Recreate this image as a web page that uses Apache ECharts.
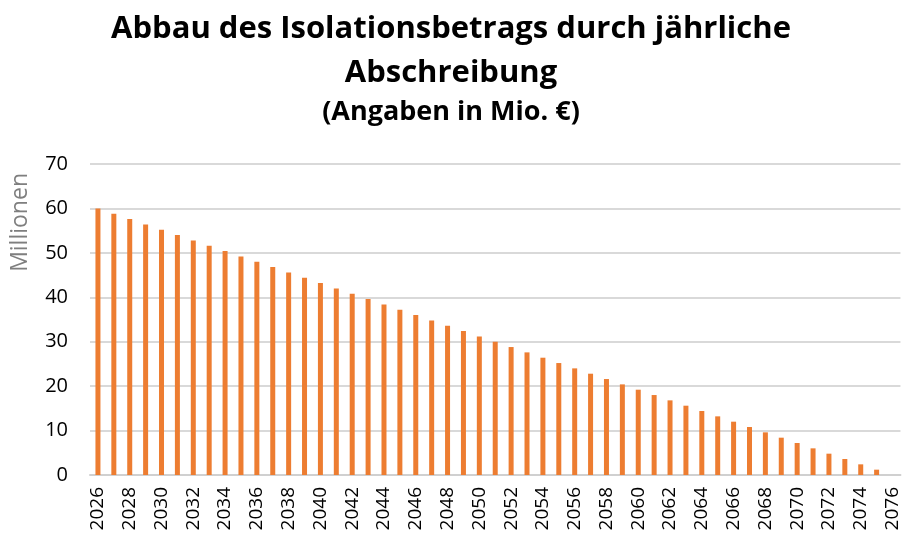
<!DOCTYPE html>
<html>
<head>
<meta charset="utf-8">
<script src="https://cdn.jsdelivr.net/npm/echarts@6/dist/echarts.min.js"></script>
<style>
  html, body { margin: 0; padding: 0; background: #fff; }
  #chart { width: 902px; height: 540px; }
</style>
</head>
<body>
<div id="chart"></div>
<script>
// Jahre 2026 - 2076
const years = ['2026','2027','2028','2029','2030','2031','2032','2033','2034','2035',
  '2036','2037','2038','2039','2040','2041','2042','2043','2044','2045',
  '2046','2047','2048','2049','2050','2051','2052','2053','2054','2055',
  '2056','2057','2058','2059','2060','2061','2062','2063','2064','2065',
  '2066','2067','2068','2069','2070','2071','2072','2073','2074','2075','2076']
// Restbetrag in Mio. €
const betrag = [60.0, 58.8, 57.6, 56.4, 55.2, 54.0, 52.8, 51.6, 50.4, 49.2,
  48.0, 46.8, 45.6, 44.4, 43.2, 42.0, 40.8, 39.6, 38.4, 37.2,
  36.0, 34.8, 33.6, 32.4, 31.2, 30.0, 28.8, 27.6, 26.4, 25.2,
  24.0, 22.8, 21.6, 20.4, 19.2, 18.0, 16.8, 15.6, 14.4, 13.2,
  12.0, 10.8, 9.6, 8.4, 7.2, 6.0, 4.8, 3.6, 2.4, 1.2, 0]
const yTicks = [0, 10, 20, 30, 40, 50, 60, 70]

const font = '"Open Sans", "Noto Sans", sans-serif'
const chart = echarts.init(document.getElementById('chart'), null, { renderer: 'canvas' })

const option = {
  animation: false,
  title: [
    {
      text: 'Abbau des Isolationsbetrags durch jährliche\nAbschreibung',
      left: 'center',
      top: 2,
      textStyle: { fontFamily: font, fontWeight: 'bold', fontSize: 31, color: '#000', lineHeight: 44 }
    },
    {
      text: '(Angaben in Mio. €)',
      left: 'center',
      top: 94,
      textStyle: { fontFamily: font, fontWeight: 'bold', fontSize: 27, color: '#000' }
    }
  ],
  grid: { left: 90, right: 1, top: 164, bottom: 65 },
  graphic: [{
    type: 'text',
    left: 9,
    top: 173,
    rotation: Math.PI / 2,
    style: { text: 'Millionen', fontFamily: font, fontSize: 23, fill: '#7f7f7f' }
  }],
  xAxis: {
    type: 'category',
    data: years,
    axisTick: { show: false },
    axisLine: { lineStyle: { color: '#d0d0d0', width: 2 } },
    axisLabel: {
      interval: 1,
      rotate: 90,
      margin: 12,
      fontFamily: font,
      fontSize: 19,
      color: '#000'
    }
  },
  yAxis: {
    type: 'value',
    min: yTicks[0],
    max: yTicks[yTicks.length - 1],
    interval: 10,
    axisLine: { show: false },
    axisTick: { show: false },
    splitLine: { lineStyle: { color: '#d9d9d9', width: 2 } },
    axisLabel: { fontFamily: font, fontSize: 20, color: '#000', margin: 22 }
  },
  series: [{
    type: 'bar',
    data: betrag,
    barWidth: 5,
    itemStyle: { color: '#ED7D31' }
  }]
}
chart.setOption(option)
</script>
</body>
</html>
